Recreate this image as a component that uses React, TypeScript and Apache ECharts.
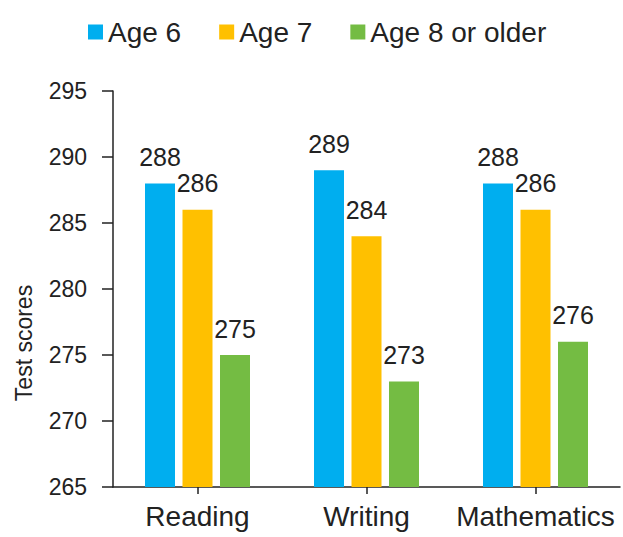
import React, { useEffect, useRef } from "react";
import * as echarts from "echarts";

const categories = ["Reading", "Writing", "Mathematics"];
const seriesNames = ["Age 6", "Age 7", "Age 8 or older"];
const age6 = [288, 289, 288];
const age7 = [286, 284, 286];
const age8 = [275, 273, 276];
const colors = ["#00AEEF", "#FFC000", "#74BC43"];
const yMin = 265;
const yMax = 295;
const yStep = 5;

const FONT = "'Liberation Sans', Arial, Helvetica, sans-serif";
const INK = "#222222";

export default function App() {
  const ref = useRef<HTMLDivElement>(null);

  useEffect(() => {
    document.body.style.margin = "0";
    if (!ref.current) return;
    const chart = echarts.init(ref.current, null, { renderer: "svg" });
    const values = [age6, age7, age8];

    chart.setOption({
      animation: false,
      backgroundColor: "#ffffff",
      textStyle: { fontFamily: FONT, color: INK },
      legend: {
        data: seriesNames,
        left: 88,
        top: 18,
        padding: 0,
        icon: "rect",
        itemWidth: 15,
        itemHeight: 15,
        itemGap: 38,
        textStyle: { fontSize: 28, color: INK, fontFamily: FONT },
      },
      grid: { left: 113, right: 3, top: 91, bottom: 50, containLabel: false },
      xAxis: {
        type: "category",
        data: categories,
        axisLine: { lineStyle: { color: INK, width: 1.5 } },
        axisTick: { show: true, alignWithLabel: true, length: 7, lineStyle: { color: INK, width: 1.5 } },
        axisLabel: {
          fontSize: 28,
          color: INK,
          fontFamily: FONT,
          margin: 15,
          interval: 0,
          hideOverlap: false,
        },
      },
      yAxis: {
        type: "value",
        min: yMin,
        max: yMax,
        interval: yStep,
        splitLine: { show: false },
        axisLine: { show: true, lineStyle: { color: INK, width: 1.5 } },
        axisTick: { show: true, length: 11, lineStyle: { color: INK, width: 1.5 } },
        axisLabel: { fontSize: 23, color: INK, fontFamily: FONT, margin: 26 },
      },
      graphic: [
        {
          type: "text",
          x: 24,
          y: 343,
          rotation: Math.PI / 2,
          style: {
            text: "Test scores",
            fontSize: 23,
            fontFamily: FONT,
            fill: INK,
            textAlign: "center",
            textVerticalAlign: "middle",
          },
        },
      ],
      series: seriesNames.map((name, i) => ({
        name,
        type: "bar",
        data: values[i],
        barWidth: 30,
        barGap: "25%",
        itemStyle: { color: colors[i] },
        label: {
          show: true,
          position: "top",
          distance: 14,
          fontSize: 25,
          color: INK,
          fontFamily: FONT,
        },
      })),
    });

    return () => chart.dispose();
  }, []);

  return <div ref={ref} style={{ width: 623, height: 537 }} />;
}
